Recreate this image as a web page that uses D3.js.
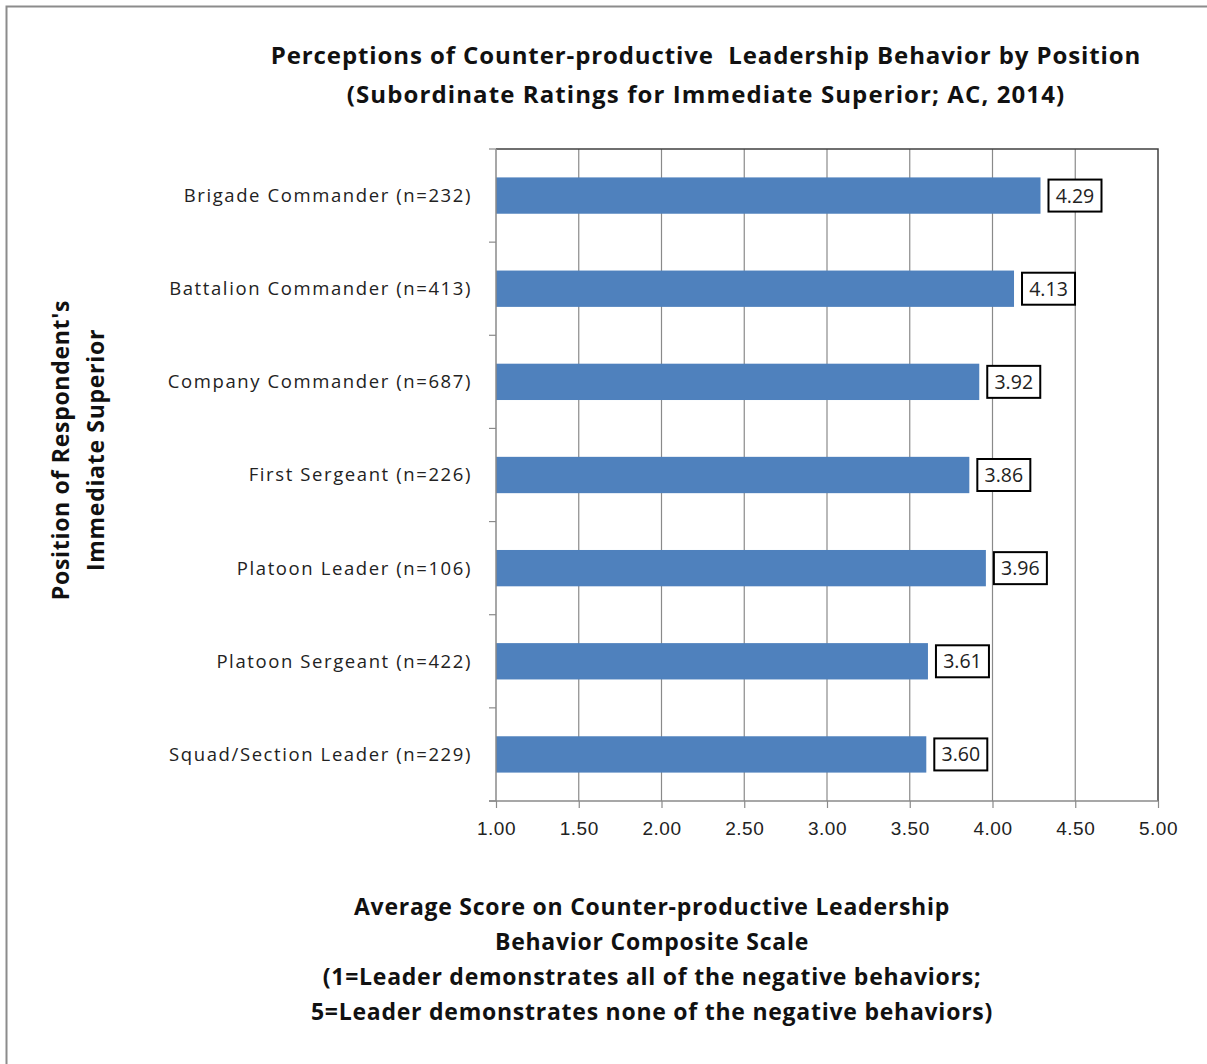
<!DOCTYPE html>
<html>
<head>
<meta charset="utf-8">
<script src="https://cdn.jsdelivr.net/npm/d3@7.9.0/dist/d3.min.js"></script>
<style>
  body { margin: 0; background: #fff; }
  svg { display: block; font-family: "Open Sans", sans-serif; }
</style>
</head>
<body>
<svg id="chart" width="1207" height="1064"></svg>
<script>
const positions = [
  'Brigade Commander (n=232)',
  'Battalion Commander (n=413)',
  'Company Commander (n=687)',
  'First Sergeant (n=226)',
  'Platoon Leader (n=106)',
  'Platoon Sergeant (n=422)',
  'Squad/Section Leader (n=229)'
];
const scores = [4.29, 4.13, 3.92, 3.86, 3.96, 3.61, 3.60];
const xTicks = [1.00, 1.50, 2.00, 2.50, 3.00, 3.50, 4.00, 4.50, 5.00];

const titleLines = [
  'Perceptions of Counter-productive  Leadership Behavior by Position',
  '(Subordinate Ratings for Immediate Superior; AC, 2014)'
];
const xTitleLines = [
  'Average Score on Counter-productive Leadership',
  'Behavior Composite Scale',
  '(1=Leader demonstrates all of the negative behaviors;',
  '5=Leader demonstrates none of the negative behaviors)'
];
const yTitleLines = ["Position of Respondent's", 'Immediate Superior'];

const svg = d3.select('#chart');
const margin = { left: 496, top: 149, right: 1158, bottom: 801 };

// outer frame
svg.append('rect')
  .attr('x', 6.5).attr('y', 6.5)
  .attr('width', 1220).attr('height', 1070)
  .attr('fill', 'none').attr('stroke', '#8c8c8c').attr('stroke-width', 2);

const x = d3.scaleLinear().domain([1, 5]).range([margin.left, margin.right]);
const y = d3.scaleBand().domain(positions)
  .range([margin.top, margin.bottom])
  .paddingInner(0.61).paddingOuter(0.305);

// gridlines
svg.append('g')
  .selectAll('line')
  .data(xTicks.slice(1, -1))
  .join('line')
  .attr('x1', d => x(d)).attr('x2', d => x(d))
  .attr('y1', margin.top).attr('y2', margin.bottom)
  .attr('stroke', '#8a8a8a').attr('stroke-width', 1.2);

// plot border (top + right)
svg.append('path')
  .attr('d', `M${margin.left},${margin.top}H${margin.right}V${margin.bottom}`)
  .attr('fill', 'none').attr('stroke', '#404040').attr('stroke-width', 1.5);

// bars
svg.append('g')
  .selectAll('rect')
  .data(scores)
  .join('rect')
  .attr('x', x(1))
  .attr('y', (d, i) => y(positions[i]))
  .attr('width', d => x(d) - x(1))
  .attr('height', y.bandwidth())
  .attr('fill', '#4f81bd');

// x axis
const xAxis = svg.append('g')
  .attr('transform', `translate(0,${margin.bottom})`)
  .call(d3.axisBottom(x).tickValues(xTicks).tickFormat(d3.format('.2f')).tickSizeOuter(0).tickSize(7).tickPadding(14));
xAxis.select('.domain').remove();
xAxis.selectAll('line').attr('stroke', '#8a8a8a').attr('stroke-width', 1.2);
xAxis.selectAll('text').attr('font-size', 19).attr('letter-spacing', 0.5).attr('fill', '#222');
xAxis.append('line')
  .attr('x1', margin.left - 7).attr('x2', margin.right)
  .attr('stroke', '#8a8a8a').attr('stroke-width', 1.5);

// y axis line and boundary ticks
const step = y.step();
const bounds = d3.range(positions.length + 1).map(i => margin.top + i * step);
svg.append('line')
  .attr('x1', margin.left).attr('x2', margin.left)
  .attr('y1', margin.top).attr('y2', margin.bottom)
  .attr('stroke', '#8a8a8a').attr('stroke-width', 1.5);
svg.append('g')
  .selectAll('line')
  .data(bounds)
  .join('line')
  .attr('x1', margin.left - 7).attr('x2', margin.left)
  .attr('y1', d => d).attr('y2', d => d)
  .attr('stroke', '#8a8a8a').attr('stroke-width', 1.2);

// category labels
svg.append('g')
  .selectAll('text')
  .data(positions)
  .join('text')
  .attr('x', 472)
  .attr('y', d => y(d) + y.bandwidth() / 2)
  .attr('dy', '0.35em')
  .attr('text-anchor', 'end')
  .attr('font-size', 18.5)
  .attr('letter-spacing', 1.6)
  .attr('fill', '#222')
  .text(d => d);

// data labels
const lab = svg.append('g')
  .selectAll('g')
  .data(scores)
  .join('g')
  .attr('transform', (d, i) => `translate(${x(d) + 8},${y(positions[i]) + y.bandwidth() / 2})`);
lab.append('rect')
  .attr('x', 0).attr('y', -16)
  .attr('width', 53).attr('height', 32)
  .attr('fill', '#fff').attr('stroke', '#000').attr('stroke-width', 2);
lab.append('text')
  .attr('x', 26.5).attr('dy', '0.36em')
  .attr('text-anchor', 'middle')
  .attr('font-size', 19.5)
  .attr('fill', '#222')
  .text(d => d.toFixed(2));

// title
svg.append('g')
  .selectAll('text')
  .data(titleLines)
  .join('text')
  .attr('x', 706)
  .attr('y', (d, i) => 64 + i * 39)
  .attr('text-anchor', 'middle')
  .attr('font-size', 24)
  .attr('letter-spacing', (d, i) => i === 0 ? 0.9 : 1.1)
  .attr('font-weight', 'bold')
  .attr('fill', '#111')
  .attr('xml:space', 'preserve')
  .style('white-space', 'pre')
  .text(d => d);

// x axis title
svg.append('g')
  .selectAll('text')
  .data(xTitleLines)
  .join('text')
  .attr('x', 652)
  .attr('y', (d, i) => 915 + i * 35)
  .attr('text-anchor', 'middle')
  .attr('font-size', 23)
  .attr('letter-spacing', 0.75)
  .attr('font-weight', 'bold')
  .attr('fill', '#111')
  .text(d => d);

// y axis title
svg.append('g')
  .attr('transform', 'translate(0,450) rotate(-90)')
  .selectAll('text')
  .data(yTitleLines)
  .join('text')
  .attr('x', 0)
  .attr('y', (d, i) => 69 + i * 35)
  .attr('text-anchor', 'middle')
  .attr('font-size', 23)
  .attr('letter-spacing', 0.7)
  .attr('font-weight', 'bold')
  .attr('fill', '#111')
  .text(d => d);
</script>
</body>
</html>
